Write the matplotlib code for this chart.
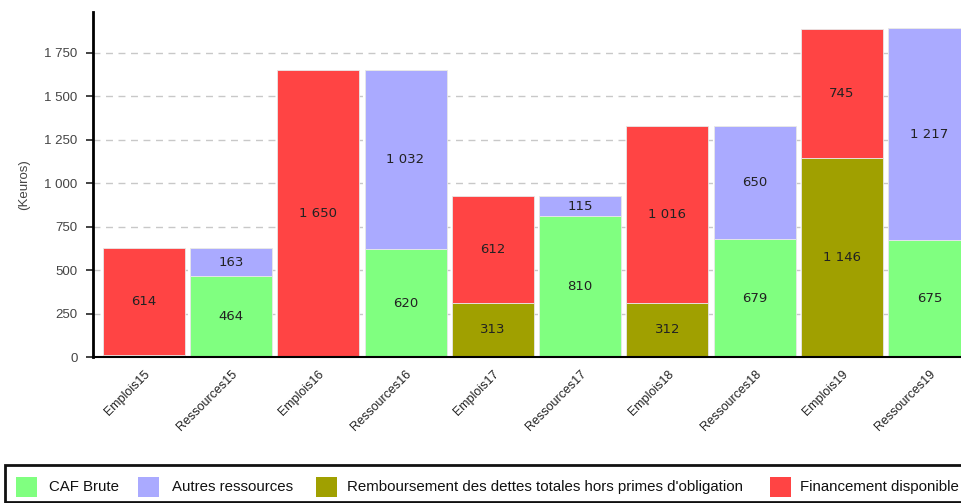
# Stacked bars: Emplois / Ressources per year (Keuros)
import matplotlib
matplotlib.use("Agg")
import matplotlib.pyplot as plt
from matplotlib.patches import Rectangle

categories = ["Emplois15", "Ressources15", "Emplois16", "Ressources16",
              "Emplois17", "Ressources17", "Emplois18", "Ressources18",
              "Emplois19", "Ressources19"]

caf_brute = [0, 464, 0, 620, 0, 810, 0, 679, 0, 675]
autres_ressources = [0, 163, 0, 1032, 0, 115, 0, 650, 0, 1217]
remboursement = [13, 0, 2, 0, 313, 0, 312, 0, 1146, 0]
financement = [614, 0, 1650, 0, 612, 0, 1016, 0, 745, 0]

series_names = ["CAF Brute", "Autres ressources",
                "Remboursement des dettes totales hors primes d'obligation",
                "Financement disponible"]
colors = ["#80FF80", "#AAAAFF", "#A0A000", "#FF4444"]

yticks = [0, 250, 500, 750, 1000, 1250, 1500, 1750]

W, H = 961, 503
sans = ["Liberation Sans", "DejaVu Sans"]


def fmt(v):
    return "{:,}".format(int(v)).replace(",", " ")


fig = plt.figure(figsize=(W / 100, H / 100), dpi=100)
ax = fig.add_axes([93 / W, 146 / H, 887 / W, 345 / H])

x = list(range(len(categories)))
bottom = [0] * len(categories)
for vals, col in zip([caf_brute, autres_ressources, remboursement, financement], colors):
    ax.bar(x, vals, width=0.94, bottom=bottom, color=col,
           edgecolor="#e8e8e8", linewidth=0.6, zorder=2)
    for i, v in enumerate(vals):
        if v >= 50:
            ax.text(i, bottom[i] + v / 2, fmt(v), ha="center", va="center",
                    fontsize=9.5, color="#222222", zorder=3)
    bottom = [b + v for b, v in zip(bottom, vals)]

ax.set_xlim(-0.58, 9.58)
ax.set_ylim(0, 1986)
ax.set_yticks(yticks)
ax.set_yticklabels([fmt(v) for v in yticks], fontsize=9.5, color="#444444", family=sans)
ax.yaxis.grid(True, linestyle=(0, (5, 4)), color="#c8c8c8", linewidth=1, zorder=0)
ax.set_axisbelow(True)

ax.set_xticks(x)
ax.set_xticklabels(categories, rotation=45, ha="right", va="top",
                   rotation_mode="anchor", fontsize=9, color="#222222", family=sans)
ax.tick_params(axis="x", length=0, pad=8)
ax.tick_params(axis="y", length=5, width=1.2, color="#222222", pad=6)

for side in ["top", "right"]:
    ax.spines[side].set_visible(False)
ax.spines["left"].set_linewidth(2)
ax.spines["bottom"].set_linewidth(1.5)

ax.set_ylabel("(Keuros)", fontsize=9.5, color="#444444", labelpad=10, family=sans)

# legend box, drawn by hand so the columns sit where the original has them
fig.patches.append(Rectangle((5 / W, 1 / H), 1.0, 37 / H, transform=fig.transFigure,
                             facecolor="white", edgecolor="#111111", linewidth=2))
handle_x = [16, 138, 316, 770]
text_x = [49, 172, 347, 800]
for hx, tx, name, col in zip(handle_x, text_x, series_names, colors):
    fig.patches.append(Rectangle((hx / W, 6 / H), 21 / W, 20 / H,
                                 transform=fig.transFigure, facecolor=col,
                                 edgecolor="none"))
    fig.text(tx / W, 16 / H, name, ha="left", va="center", fontsize=10.8,
             color="#111111", family=sans)

plt.savefig("out.png", dpi=100)
